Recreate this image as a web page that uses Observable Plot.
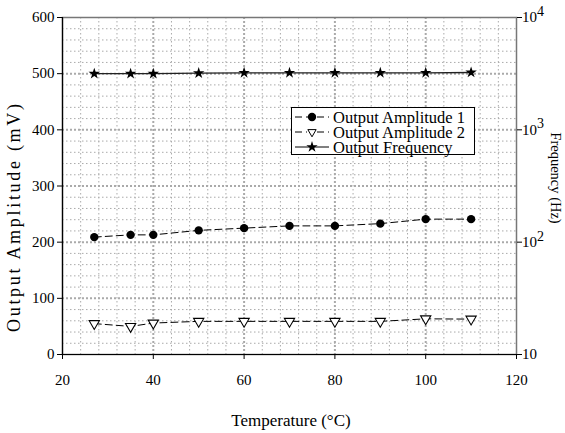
<!DOCTYPE html>
<html>
<head>
<meta charset="utf-8">
<script src="https://cdn.jsdelivr.net/npm/d3@7"></script>
<script src="https://cdn.jsdelivr.net/npm/@observablehq/plot@0.6"></script>
<style>
  html, body { margin: 0; padding: 0; background: white; }
  svg { display: block; }
</style>
</head>
<body>
<div id="chart"></div>
<script>
// Data
const temps = [27, 35, 40, 50, 60, 70, 80, 90, 100, 110];
const amp1 = [209, 213, 213, 221, 225, 229, 229, 233, 241, 241];
const amp2 = [55, 50, 56, 59, 59, 59, 59, 59, 63.5, 63];
const freq = [3160, 3160, 3160, 3200, 3220, 3220, 3220, 3220, 3220, 3240];

const xTicks = [20, 40, 60, 80, 100, 120];
const yTicks = [0, 100, 200, 300, 400, 500, 600];
const freqTicks = [1, 2, 3, 4]; // exponents of 10
const seriesNames = ["Output Amplitude 1", "Output Amplitude 2", "Output Frequency"];

// right log axis (10..10^4) mapped onto left linear domain (0..600)
const fy = f => (Math.log10(f) - 1) * 200;

const d1 = temps.map((t, i) => ({t, v: amp1[i]}));
const d2 = temps.map((t, i) => ({t, v: amp2[i]}));
const d3f = temps.map((t, i) => ({t, v: fy(freq[i])}));

const serif = "'Liberation Serif', 'Times New Roman', serif";

const chart = Plot.plot({
  width: 565,
  height: 433,
  marginLeft: 62,
  marginRight: 49,
  marginTop: 17,
  marginBottom: 79,
  style: {fontFamily: serif, fontSize: "15px", color: "black", background: "white"},
  x: {domain: [20, 120]},
  y: {domain: [0, 600]},
  marks: [
    Plot.gridX(d3.range(24, 120, 4).filter(v => v % 20 !== 0), {stroke: "#aaa", strokeOpacity: 1, strokeWidth: 1, strokeDasharray: "1.5,2.5"}),
    Plot.gridY(d3.range(20, 600, 20).filter(v => v % 100 !== 0), {stroke: "#aaa", strokeOpacity: 1, strokeWidth: 1, strokeDasharray: "1.5,2.5"}),
    Plot.gridX([40, 60, 80, 100], {stroke: "#aaa", strokeOpacity: 1, strokeWidth: 2, strokeDasharray: "2,2"}),
    Plot.gridY([100, 200, 300, 400, 500], {stroke: "#aaa", strokeOpacity: 1, strokeWidth: 2, strokeDasharray: "2,2"}),
    Plot.frame({stroke: "#777", strokeWidth: 1.5}),
    Plot.axisX({ticks: xTicks, tickSize: 5, tickPadding: 15, label: null, tickFormat: d => String(d)}),
    Plot.axisY({ticks: yTicks, tickSize: 5, tickPadding: 3, label: null, tickFormat: d => String(d)}),
    Plot.axisY({anchor: "right", ticks: freqTicks.map(e => fy(Math.pow(10, e))), tickSize: 5, tickFormat: () => "", label: null}),
    Plot.ruleY([0], {stroke: "black", strokeWidth: 1.2}),
    Plot.ruleX([20], {stroke: "black", strokeWidth: 1.2}),
    Plot.line(d1, {x: "t", y: "v", stroke: "black", strokeWidth: 1, strokeDasharray: "7,4"}),
    Plot.line(d2, {x: "t", y: "v", stroke: "black", strokeWidth: 1, strokeDasharray: "7,4"}),
    Plot.line(d3f, {x: "t", y: "v", stroke: "#222", strokeWidth: 1.3}),
    Plot.dot(d1, {x: "t", y: "v", r: 4.2, fill: "black", stroke: "none"}),
    Plot.dot(d2, {x: "t", y: "v", symbol: "triangle", r: 3.8, rotate: 180, fill: "white", stroke: "black", strokeWidth: 1.1}),
    Plot.dot(d3f, {x: "t", y: "v", symbol: "star", r: 3.6, fill: "black", stroke: "none"})
  ]
});

document.getElementById("chart").appendChild(chart);

const svg = d3.select(chart);
const xs = chart.scale("x");
const ys = chart.scale("y");
const xr = xs.apply(120);

// right axis labels 10, 10^2, 10^3, 10^4
freqTicks.forEach(e => {
  const t = svg.append("text")
    .attr("x", xr + 6)
    .attr("y", ys.apply(fy(Math.pow(10, e))))
    .attr("dy", "0.35em")
    .attr("text-anchor", "start")
    .attr("font-family", serif)
    .attr("font-size", 15)
    .text("10");
  if (e > 1) {
    t.append("tspan").attr("dy", "-0.45em").attr("font-size", 14).text(String(e));
  }
});

// axis titles
svg.append("text")
  .attr("transform", `translate(14,218) rotate(-90)`)
  .attr("text-anchor", "middle").attr("dy", "0.35em")
  .attr("font-family", serif).attr("font-size", 18)
  .attr("textLength", 228).attr("lengthAdjust", "spacing")
  .text("Output Amplitude (mV)");

svg.append("text")
  .attr("transform", `translate(556,178) rotate(90)`)
  .attr("text-anchor", "middle").attr("dy", "0.35em")
  .attr("font-family", serif).attr("font-size", 14.5)
  .text("Frequency (Hz)");

svg.append("text")
  .attr("x", 291)
  .attr("y", 420)
  .attr("text-anchor", "middle").attr("dy", "0.35em")
  .attr("font-family", serif).attr("font-size", 17)
  .text("Temperature (°C)");

// legend
const lg = svg.append("g");
lg.append("rect").attr("x", 291.5).attr("y", 107.5).attr("width", 183).attr("height", 47)
  .attr("fill", "white").attr("stroke", "black").attr("stroke-width", 1);
const rows = [117, 132, 147];
const sym = d3.symbol();
seriesNames.forEach((name, i) => {
  const y = rows[i];
  lg.append("line").attr("x1", 295).attr("x2", 329).attr("y1", y).attr("y2", y)
    .attr("stroke", "black").attr("stroke-width", 1)
    .attr("stroke-dasharray", i < 2 ? "7,4" : null);
  if (i === 1) {
    lg.append("rect").attr("x", 307).attr("y", y - 5).attr("width", 10).attr("height", 10).attr("fill", "white");
  }
  const p = lg.append("path").attr("transform", `translate(312,${y})` + (i === 1 ? " rotate(180)" : ""));
  if (i === 0) p.attr("d", sym.type(d3.symbolCircle).size(Math.PI * 4.2 * 4.2)()).attr("fill", "black");
  if (i === 1) p.attr("d", sym.type(d3.symbolTriangle).size(30)()).attr("fill", "white").attr("stroke", "black");
  if (i === 2) p.attr("d", sym.type(d3.symbolStar).size(40)()).attr("fill", "black");
  lg.append("text").attr("x", 333).attr("y", y).attr("dy", "0.35em")
    .attr("text-anchor", "start")
    .attr("font-family", serif).attr("font-size", 16.5).text(name);
});
</script>
</body>
</html>
